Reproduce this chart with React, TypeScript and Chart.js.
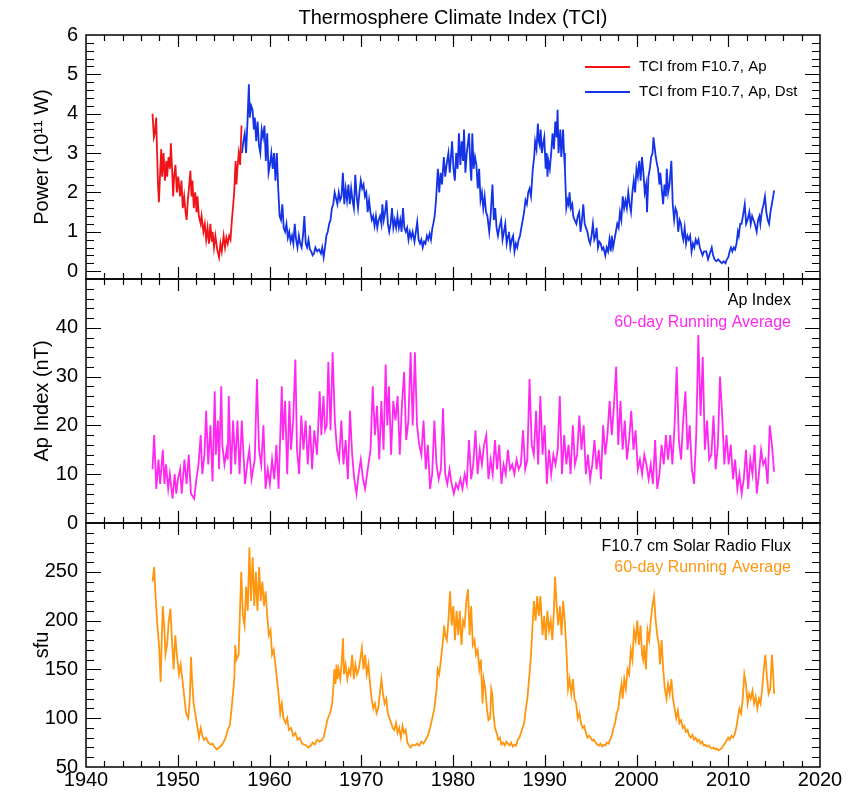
import React, { useEffect, useRef } from 'react';
import { Chart, registerables } from 'chart.js';

Chart.register(...registerables);

const FONT = "'Liberation Sans', Arial, Helvetica, sans-serif";

const chartTitle = 'Thermosphere Climate Index (TCI)';
const xTickYears = [1940, 1950, 1960, 1970, 1980, 1990, 2000, 2010, 2020];
const tciTicks = [0, 1, 2, 3, 4, 5, 6];
const apTicks = [0, 10, 20, 30, 40];
const f107Ticks = [50, 100, 150, 200, 250];
const legendLabels = ['TCI from F10.7, Ap', 'TCI from F10.7, Ap, Dst'];
const apLabels = ['Ap Index', '60-day Running Average'];
const f107Labels = ['F10.7 cm Solar Radio Flux', '60-day Running Average'];

// [year, 10^11 W]
const tciFromF107Ap: [number, number][] = [
  [1947.25, 4.0], [1947.4, 3.4], [1947.5, 3.5], [1947.65, 3.9], [1947.75, 3.0], [1947.85, 2.2], [1947.95, 1.75],
  [1948.1, 2.6], [1948.2, 3.1], [1948.3, 2.4], [1948.45, 3.0], [1948.6, 2.3], [1948.75, 2.8], [1948.85, 2.4],
  [1949.0, 2.9], [1949.15, 2.6], [1949.25, 3.25], [1949.4, 2.5], [1949.5, 1.9], [1949.6, 2.4], [1949.75, 2.7], [1949.9, 2.0],
  [1950.05, 2.4], [1950.25, 1.9], [1950.4, 2.3], [1950.55, 1.6], [1950.7, 1.9], [1950.85, 1.5], [1950.97, 1.3],
  [1951.1, 1.8], [1951.25, 2.2], [1951.38, 2.55], [1951.5, 1.9], [1951.6, 2.3], [1951.75, 1.6], [1951.9, 2.0],
  [1952.05, 1.5], [1952.15, 1.9], [1952.3, 1.4], [1952.5, 1.2], [1952.6, 1.4], [1952.8, 1.0], [1952.95, 1.2],
  [1953.1, 0.8], [1953.25, 1.1], [1953.4, 0.7], [1953.56, 1.2], [1953.7, 0.75], [1953.8, 1.0], [1953.95, 0.6],
  [1954.1, 0.9], [1954.3, 0.55], [1954.5, 0.35], [1954.65, 0.7], [1954.8, 0.5],
  [1955.0, 0.9], [1955.15, 0.6], [1955.3, 0.85], [1955.45, 0.7], [1955.6, 0.9], [1955.75, 0.8], [1955.9, 1.3],
  [1956.05, 1.7], [1956.15, 2.0], [1956.3, 2.8], [1956.4, 2.2], [1956.5, 2.6], [1956.65, 3.0], [1956.8, 2.7], [1956.95, 3.7],
];

const tciFromF107ApDst: [number, number][] = [
  [1957.0, 3.0], [1957.15, 3.3], [1957.3, 3.5], [1957.45, 3.0], [1957.6, 3.8], [1957.75, 4.75], [1957.85, 3.9],
  [1958.0, 4.2], [1958.15, 4.1], [1958.3, 3.6], [1958.4, 3.9], [1958.55, 3.3], [1958.7, 3.8], [1958.85, 3.2],
  [1959.0, 3.0], [1959.15, 3.6], [1959.3, 3.4], [1959.45, 3.7], [1959.6, 2.8], [1959.75, 3.5], [1959.9, 2.5],
  [1960.05, 2.7], [1960.2, 3.0], [1960.35, 2.6], [1960.5, 3.0], [1960.65, 2.3], [1960.8, 3.0], [1960.95, 2.1],
  [1961.1, 1.4], [1961.25, 1.3], [1961.4, 1.7], [1961.55, 1.1], [1961.7, 1.0], [1961.85, 1.2],
  [1962.0, 0.85], [1962.15, 1.0], [1962.3, 0.75], [1962.45, 0.9], [1962.6, 0.7], [1962.75, 1.2], [1962.9, 0.8],
  [1963.05, 0.6], [1963.2, 0.9], [1963.35, 0.7], [1963.5, 0.6], [1963.65, 0.9], [1963.8, 1.4], [1963.95, 0.7],
  [1964.1, 0.6], [1964.25, 0.8], [1964.4, 0.55], [1964.55, 0.5], [1964.7, 0.4], [1964.85, 0.45],
  [1965.0, 0.6], [1965.2, 0.5], [1965.4, 0.55], [1965.6, 0.45], [1965.75, 0.6], [1965.9, 0.35],
  [1966.05, 0.6], [1966.2, 0.9], [1966.35, 1.0], [1966.5, 1.2], [1966.65, 1.3], [1966.8, 1.6], [1966.95, 1.7],
  [1967.1, 2.0], [1967.25, 1.85], [1967.4, 1.7], [1967.55, 2.0], [1967.7, 1.8], [1967.85, 1.9],
  [1968.0, 2.5], [1968.15, 1.7], [1968.3, 2.1], [1968.45, 1.8], [1968.6, 2.2], [1968.75, 1.7], [1968.9, 2.1],
  [1969.05, 1.8], [1969.2, 1.6], [1969.35, 2.45], [1969.5, 1.9], [1969.65, 1.6], [1969.8, 2.0], [1969.95, 2.3],
  [1970.1, 2.1], [1970.25, 2.2], [1970.4, 1.9], [1970.55, 2.0], [1970.7, 1.5], [1970.85, 1.8],
  [1971.0, 1.5], [1971.15, 1.3], [1971.3, 1.4], [1971.45, 1.15], [1971.6, 1.4], [1971.75, 1.1], [1971.9, 1.3],
  [1972.05, 1.4], [1972.2, 1.2], [1972.3, 1.7], [1972.45, 1.3], [1972.6, 1.5], [1972.75, 1.8], [1972.9, 1.2],
  [1973.05, 1.0], [1973.2, 1.2], [1973.35, 1.6], [1973.5, 1.1], [1973.65, 1.3], [1973.8, 1.1], [1973.95, 1.4],
  [1974.1, 1.1], [1974.25, 1.3], [1974.4, 1.0], [1974.55, 1.6], [1974.7, 1.1], [1974.85, 1.0],
  [1975.0, 1.1], [1975.15, 0.8], [1975.3, 1.0], [1975.45, 0.85], [1975.6, 1.0], [1975.8, 0.75], [1975.95, 1.0],
  [1976.1, 1.25], [1976.25, 0.8], [1976.4, 0.7], [1976.55, 0.8], [1976.7, 0.6], [1976.85, 0.75],
  [1977.0, 0.7], [1977.15, 0.9], [1977.3, 0.8], [1977.45, 0.95], [1977.6, 0.8], [1977.75, 1.1], [1977.85, 1.2],
  [1978.0, 1.4], [1978.15, 1.8], [1978.35, 2.6], [1978.5, 2.0], [1978.65, 2.5], [1978.8, 2.2],
  [1979.0, 2.9], [1979.15, 2.4], [1979.3, 2.7], [1979.5, 3.0], [1979.65, 2.5], [1979.9, 3.3],
  [1980.05, 2.6], [1980.2, 2.3], [1980.35, 3.0], [1980.5, 2.6], [1980.65, 3.5], [1980.8, 2.7], [1980.95, 3.3],
  [1981.1, 2.8], [1981.2, 3.6], [1981.35, 2.5], [1981.5, 3.0], [1981.75, 3.5], [1981.9, 2.6],
  [1982.0, 2.3], [1982.1, 3.5], [1982.25, 2.6], [1982.4, 2.9], [1982.55, 2.7], [1982.7, 2.1], [1982.85, 2.6],
  [1983.0, 1.8], [1983.15, 2.0], [1983.3, 1.6], [1983.45, 1.9], [1983.6, 1.5], [1983.75, 1.4], [1983.95, 1.0],
  [1984.1, 1.4], [1984.3, 2.2], [1984.45, 1.3], [1984.6, 1.6], [1984.75, 1.1], [1984.9, 0.9],
  [1985.05, 1.1], [1985.25, 1.3], [1985.4, 0.8], [1985.55, 1.0], [1985.7, 1.2], [1985.85, 0.7],
  [1986.0, 0.9], [1986.1, 1.0], [1986.25, 0.6], [1986.4, 0.8], [1986.55, 0.9], [1986.7, 0.5], [1986.85, 0.7],
  [1987.0, 0.6], [1987.15, 0.8], [1987.3, 0.9], [1987.45, 1.1], [1987.6, 1.3], [1987.75, 1.5], [1987.9, 1.8],
  [1988.05, 1.7], [1988.2, 2.0], [1988.35, 2.1], [1988.5, 1.9], [1988.7, 2.6], [1988.85, 2.9], [1988.95, 3.3],
  [1989.1, 3.1], [1989.25, 3.75], [1989.35, 3.3], [1989.45, 3.2], [1989.55, 3.6], [1989.7, 3.0], [1989.8, 3.2], [1989.95, 3.4],
  [1990.1, 2.6], [1990.2, 3.0], [1990.3, 2.4], [1990.4, 2.8], [1990.55, 2.6], [1990.7, 3.0], [1990.85, 3.5],
  [1991.0, 3.1], [1991.15, 3.8], [1991.3, 3.4], [1991.4, 4.1], [1991.5, 3.0], [1991.6, 3.3], [1991.7, 3.6], [1991.8, 2.9], [1991.9, 3.2],
  [1992.0, 3.6], [1992.1, 3.0], [1992.2, 2.6], [1992.35, 1.6], [1992.5, 1.8], [1992.6, 1.7], [1992.7, 2.0], [1992.85, 1.6],
  [1993.0, 1.7], [1993.1, 1.4], [1993.25, 1.3], [1993.45, 1.2], [1993.6, 1.4], [1993.75, 1.5], [1993.9, 1.0],
  [1994.05, 1.3], [1994.2, 1.7], [1994.35, 1.2], [1994.5, 1.1], [1994.65, 1.0], [1994.8, 0.8], [1994.95, 0.7],
  [1995.1, 0.9], [1995.25, 1.2], [1995.4, 0.8], [1995.55, 0.9], [1995.65, 1.1], [1995.8, 0.6], [1995.95, 0.75],
  [1996.1, 0.7], [1996.25, 0.55], [1996.4, 0.6], [1996.6, 0.4], [1996.75, 0.6], [1996.9, 0.5],
  [1997.05, 0.8], [1997.2, 0.5], [1997.3, 0.9], [1997.45, 0.6], [1997.6, 0.8], [1997.75, 1.0], [1997.9, 1.2],
  [1998.05, 1.1], [1998.2, 1.5], [1998.35, 1.3], [1998.5, 1.9], [1998.65, 1.6], [1998.8, 1.8], [1998.95, 1.6],
  [1999.1, 2.0], [1999.25, 1.7], [1999.4, 1.5], [1999.55, 2.0], [1999.7, 2.3], [1999.85, 2.0],
  [2000.0, 2.6], [2000.15, 2.4], [2000.3, 2.8], [2000.45, 2.3], [2000.6, 2.9], [2000.75, 2.5], [2000.9, 2.0],
  [2001.05, 2.2], [2001.15, 1.5], [2001.3, 2.4], [2001.45, 2.6], [2001.6, 2.9], [2001.75, 3.0], [2001.85, 3.4],
  [2002.0, 3.1], [2002.1, 2.9], [2002.25, 2.7], [2002.35, 2.6], [2002.5, 2.2], [2002.6, 2.5], [2002.75, 2.1], [2002.9, 1.7],
  [2003.05, 2.2], [2003.2, 1.9], [2003.3, 2.6], [2003.45, 2.0], [2003.6, 2.2], [2003.8, 2.8], [2003.95, 1.7],
  [2004.1, 1.3], [2004.25, 1.6], [2004.4, 1.5], [2004.55, 1.0], [2004.7, 1.3], [2004.85, 1.2],
  [2005.0, 0.9], [2005.1, 0.8], [2005.25, 1.1], [2005.4, 0.7], [2005.55, 0.9], [2005.7, 0.8], [2005.85, 0.9],
  [2006.0, 0.5], [2006.15, 0.7], [2006.3, 0.6], [2006.45, 0.8], [2006.6, 0.7], [2006.75, 0.8], [2006.9, 0.6],
  [2007.05, 0.5], [2007.2, 0.4], [2007.35, 0.5], [2007.6, 0.5], [2007.8, 0.3],
  [2008.0, 0.45], [2008.2, 0.6], [2008.35, 0.4], [2008.5, 0.3], [2008.7, 0.25], [2008.9, 0.3],
  [2009.1, 0.25], [2009.3, 0.2], [2009.5, 0.25], [2009.7, 0.2], [2009.85, 0.3],
  [2010.0, 0.35], [2010.15, 0.5], [2010.3, 0.6], [2010.45, 0.5], [2010.6, 0.6], [2010.75, 0.55], [2010.9, 0.7],
  [2011.05, 1.0], [2011.15, 0.9], [2011.3, 1.2], [2011.45, 1.2], [2011.6, 1.4], [2011.8, 1.7], [2011.95, 1.2],
  [2012.1, 1.3], [2012.3, 1.5], [2012.45, 1.2], [2012.6, 1.4], [2012.75, 1.3], [2012.9, 1.2],
  [2013.1, 1.0], [2013.25, 1.3], [2013.4, 1.4], [2013.5, 1.2], [2013.65, 1.5], [2013.85, 1.7],
  [2014.0, 1.9], [2014.15, 1.5], [2014.3, 1.3], [2014.45, 1.2], [2014.6, 1.5], [2014.75, 1.7], [2014.9, 1.9], [2015.0, 2.05],
];

// [year, nT]
const apIndex60: [number, number][] = [
  [1947.25, 11], [1947.43, 18], [1947.66, 7], [1947.9, 13], [1948.08, 8], [1948.37, 15], [1948.55, 8], [1948.72, 12],
  [1948.96, 7], [1949.14, 10], [1949.43, 5], [1949.67, 10], [1949.84, 6], [1950.02, 9], [1950.26, 11], [1950.43, 6],
  [1950.73, 13], [1950.96, 8], [1951.2, 14], [1951.44, 6], [1951.79, 5], [1952.03, 9], [1952.26, 12], [1952.5, 18],
  [1952.67, 10], [1952.91, 14], [1953.09, 23], [1953.32, 12], [1953.56, 20], [1953.79, 8.5], [1954.03, 27], [1954.15, 14],
  [1954.38, 21], [1954.5, 11], [1954.74, 28], [1954.86, 16], [1955.09, 12], [1955.33, 15], [1955.45, 13], [1955.56, 26],
  [1955.8, 10], [1956.03, 21], [1956.27, 12], [1956.51, 21], [1956.74, 10], [1956.98, 21], [1957.33, 8], [1957.57, 12],
  [1957.8, 15], [1958.04, 9], [1958.39, 13], [1958.63, 29.5], [1958.86, 15], [1959.1, 12], [1959.34, 20], [1959.57, 7],
  [1959.81, 11], [1960.04, 8], [1960.28, 13], [1960.52, 9], [1960.75, 16], [1960.99, 7], [1961.34, 28], [1961.46, 17],
  [1961.7, 25], [1961.93, 10], [1962.17, 25], [1962.34, 15], [1962.58, 21], [1962.82, 33.5], [1963.0, 15], [1963.23, 10],
  [1963.46, 22], [1963.7, 15], [1963.94, 21], [1964.17, 12], [1964.41, 20], [1964.64, 11], [1964.88, 19], [1965.18, 14],
  [1965.47, 27], [1965.65, 18], [1965.88, 26], [1966.06, 19], [1966.24, 20], [1966.41, 33], [1966.65, 19], [1966.88, 35],
  [1967.12, 21], [1967.36, 15], [1967.59, 13], [1967.83, 21], [1968.06, 12], [1968.3, 17], [1968.54, 9], [1968.77, 23],
  [1969.01, 14], [1969.24, 9], [1969.48, 6], [1969.71, 10], [1969.95, 13], [1970.19, 9], [1970.42, 7], [1970.78, 12],
  [1971.01, 15], [1971.25, 28], [1971.49, 18], [1971.72, 24], [1971.96, 13], [1972.19, 25], [1972.43, 15], [1972.66, 32.5],
  [1972.84, 20], [1973.02, 28], [1973.25, 14], [1973.49, 25], [1973.73, 21], [1973.96, 26], [1974.2, 14], [1974.43, 24],
  [1974.67, 31], [1974.9, 17], [1975.14, 21], [1975.38, 35], [1975.61, 20], [1975.85, 35], [1976.08, 20], [1976.32, 16],
  [1976.55, 14], [1976.79, 21], [1977.03, 11], [1977.26, 16], [1977.5, 7], [1977.73, 10], [1977.97, 21], [1978.2, 12],
  [1978.44, 9], [1978.68, 11], [1978.91, 23.5], [1979.15, 10], [1979.38, 8], [1979.62, 11], [1979.85, 8], [1980.09, 6],
  [1980.33, 8], [1980.56, 7], [1980.8, 9], [1981.03, 7], [1981.27, 10], [1981.5, 8], [1981.74, 17], [1981.98, 9],
  [1982.21, 12], [1982.45, 19], [1982.68, 10], [1982.92, 15], [1983.15, 12], [1983.39, 16], [1983.63, 18], [1983.86, 9],
  [1984.1, 13], [1984.33, 10], [1984.57, 17], [1984.8, 11], [1985.04, 16], [1985.28, 8], [1985.51, 12], [1985.75, 10],
  [1985.98, 15], [1986.22, 11], [1986.45, 12], [1986.69, 10], [1986.93, 13], [1987.16, 11], [1987.4, 12], [1987.63, 19],
  [1987.87, 11], [1988.1, 13], [1988.34, 29.5], [1988.58, 16], [1988.81, 14], [1989.05, 23], [1989.28, 12], [1989.52, 26],
  [1989.76, 14], [1989.99, 20], [1990.23, 8], [1990.46, 15], [1990.7, 10], [1990.94, 14], [1991.17, 12], [1991.41, 15],
  [1991.64, 26], [1991.88, 10], [1992.12, 18], [1992.35, 12], [1992.59, 16], [1992.82, 10], [1993.06, 20], [1993.29, 12],
  [1993.53, 14], [1993.77, 22], [1994.0, 15], [1994.24, 20], [1994.48, 10], [1994.71, 14], [1994.95, 9], [1995.18, 12],
  [1995.42, 17], [1995.65, 11], [1995.89, 15], [1996.13, 9], [1996.36, 20], [1996.6, 14], [1996.83, 18], [1997.07, 25],
  [1997.31, 18], [1997.54, 24], [1997.78, 32], [1998.01, 16], [1998.25, 25], [1998.49, 15], [1998.72, 21], [1998.96, 13],
  [1999.19, 17], [1999.43, 23], [1999.67, 15], [1999.9, 19], [2000.14, 11], [2000.37, 13], [2000.61, 10], [2000.85, 14],
  [2001.08, 12], [2001.32, 9], [2001.55, 12], [2001.79, 8], [2002.03, 17], [2002.26, 7], [2002.5, 10], [2002.73, 16],
  [2002.97, 12], [2003.2, 18], [2003.44, 13], [2003.68, 18], [2003.91, 12], [2004.15, 20], [2004.38, 32], [2004.62, 17],
  [2004.86, 13], [2005.09, 21], [2005.33, 27], [2005.56, 15], [2005.8, 20], [2006.04, 11], [2006.27, 8], [2006.51, 18],
  [2006.74, 38.5], [2006.98, 22], [2007.22, 34], [2007.45, 15], [2007.69, 21], [2007.92, 13], [2008.16, 14], [2008.39, 22],
  [2008.63, 11], [2008.87, 16], [2009.1, 30], [2009.34, 22], [2009.57, 12], [2009.81, 18], [2010.04, 12], [2010.28, 16],
  [2010.52, 9], [2010.75, 13], [2010.99, 7], [2011.22, 10], [2011.46, 6], [2011.69, 9], [2011.93, 15], [2012.17, 7],
  [2012.4, 13], [2012.64, 10], [2012.87, 16], [2013.11, 6], [2013.34, 10], [2013.58, 15], [2013.81, 12], [2014.05, 13],
  [2014.29, 8], [2014.52, 20], [2014.76, 16], [2015.0, 10.5],
];

// [year, sfu]
const f107Flux60: [number, number][] = [
  [1947.25, 240], [1947.43, 255], [1947.55, 230], [1947.78, 195], [1947.96, 175], [1948.14, 137], [1948.25, 180], [1948.37, 215],
  [1948.55, 190], [1948.66, 165], [1948.84, 175], [1949.02, 200], [1949.2, 212], [1949.32, 190], [1949.43, 170], [1949.55, 150],
  [1949.73, 185], [1949.91, 165], [1950.14, 145], [1950.32, 155], [1950.5, 140], [1950.73, 120], [1950.91, 105], [1951.14, 100],
  [1951.32, 120], [1951.44, 163], [1951.56, 140], [1951.73, 115], [1951.91, 105], [1952.15, 90], [1952.32, 80], [1952.5, 90],
  [1952.68, 82], [1952.85, 78], [1953.09, 80], [1953.33, 75], [1953.56, 73], [1953.8, 74], [1954.03, 70], [1954.27, 68],
  [1954.5, 70], [1954.74, 72], [1954.98, 75], [1955.21, 80], [1955.45, 88], [1955.68, 93], [1955.92, 115], [1956.16, 140],
  [1956.27, 175], [1956.39, 160], [1956.63, 165], [1956.75, 200], [1956.92, 250], [1957.1, 205], [1957.28, 195], [1957.45, 235],
  [1957.63, 210], [1957.81, 275], [1957.98, 220], [1958.16, 265], [1958.34, 215], [1958.51, 250], [1958.69, 210], [1958.87, 255],
  [1959.04, 220], [1959.22, 240], [1959.4, 215], [1959.58, 230], [1959.75, 205], [1959.93, 185], [1960.11, 190], [1960.28, 165],
  [1960.46, 170], [1960.64, 155], [1960.81, 140], [1960.99, 125], [1961.17, 105], [1961.34, 115], [1961.52, 100], [1961.76, 95],
  [1961.93, 100], [1962.11, 88], [1962.35, 90], [1962.58, 82], [1962.82, 85], [1963.05, 78], [1963.29, 80], [1963.53, 74],
  [1963.77, 73], [1964.0, 72], [1964.24, 70], [1964.48, 72], [1964.72, 75], [1964.94, 73], [1965.19, 78], [1965.42, 76],
  [1965.65, 77], [1965.89, 80], [1966.12, 90], [1966.36, 100], [1966.6, 105], [1966.83, 115], [1966.95, 130], [1967.07, 150],
  [1967.19, 135], [1967.3, 155], [1967.42, 140], [1967.54, 150], [1967.71, 140], [1967.89, 160], [1968.01, 182], [1968.12, 145],
  [1968.3, 155], [1968.48, 140], [1968.66, 150], [1968.83, 145], [1969.01, 165], [1969.19, 140], [1969.36, 155], [1969.54, 145],
  [1969.72, 150], [1969.89, 160], [1970.07, 172], [1970.25, 150], [1970.42, 165], [1970.6, 145], [1970.78, 155], [1970.96, 135],
  [1971.13, 120], [1971.31, 110], [1971.49, 115], [1971.67, 105], [1971.84, 110], [1972.02, 125], [1972.2, 140], [1972.37, 125],
  [1972.55, 115], [1972.73, 120], [1972.9, 105], [1973.08, 100], [1973.26, 95], [1973.44, 90], [1973.61, 88], [1973.79, 95],
  [1973.96, 85], [1974.14, 90], [1974.32, 80], [1974.5, 92], [1974.67, 85], [1974.85, 88], [1975.03, 75], [1975.2, 72],
  [1975.38, 70], [1975.62, 73], [1975.85, 72], [1976.09, 74], [1976.32, 72], [1976.56, 76], [1976.79, 74], [1977.03, 78],
  [1977.26, 82], [1977.5, 90], [1977.74, 100], [1977.97, 110], [1978.21, 130], [1978.33, 150], [1978.5, 145], [1978.68, 160],
  [1978.86, 175], [1979.03, 195], [1979.15, 185], [1979.33, 180], [1979.5, 200], [1979.68, 230], [1979.86, 195], [1980.04, 215],
  [1980.21, 180], [1980.39, 210], [1980.57, 185], [1980.74, 210], [1980.92, 175], [1981.1, 200], [1981.27, 195], [1981.45, 220],
  [1981.63, 232], [1981.81, 185], [1981.98, 215], [1982.16, 175], [1982.34, 180], [1982.51, 165], [1982.69, 170], [1982.87, 150],
  [1983.04, 160], [1983.22, 115], [1983.34, 140], [1983.52, 130], [1983.69, 110], [1983.87, 98], [1984.05, 100], [1984.17, 130],
  [1984.28, 125], [1984.4, 105], [1984.58, 90], [1984.75, 85], [1984.93, 78], [1985.11, 80], [1985.28, 73], [1985.46, 75],
  [1985.64, 72], [1985.81, 76], [1985.99, 74], [1986.17, 72], [1986.34, 75], [1986.52, 71], [1986.7, 73], [1986.88, 72],
  [1987.05, 78], [1987.23, 80], [1987.41, 85], [1987.58, 90], [1987.76, 95], [1987.94, 110], [1988.11, 120], [1988.29, 140],
  [1988.47, 160], [1988.64, 190], [1988.82, 220], [1989.0, 200], [1989.17, 225], [1989.35, 205], [1989.53, 225], [1989.76, 185],
  [1989.94, 205], [1990.12, 180], [1990.29, 210], [1990.47, 190], [1990.65, 200], [1990.83, 180], [1991.0, 210], [1991.12, 245],
  [1991.3, 215], [1991.47, 195], [1991.65, 215], [1991.83, 185], [1992.0, 220], [1992.18, 200], [1992.36, 170], [1992.54, 130],
  [1992.71, 140], [1992.89, 125], [1993.07, 140], [1993.24, 120], [1993.42, 115], [1993.6, 100], [1993.77, 105], [1993.95, 95],
  [1994.13, 90], [1994.3, 92], [1994.48, 85], [1994.66, 80], [1994.84, 82], [1995.01, 80], [1995.19, 77], [1995.37, 78],
  [1995.54, 75], [1995.72, 73], [1995.9, 72], [1996.07, 74], [1996.25, 71], [1996.43, 73], [1996.6, 72], [1996.78, 75],
  [1996.96, 74], [1997.13, 78], [1997.31, 82], [1997.49, 90], [1997.67, 95], [1997.84, 105], [1998.02, 110], [1998.2, 125],
  [1998.37, 135], [1998.49, 120], [1998.67, 140], [1998.84, 130], [1999.02, 150], [1999.2, 145], [1999.38, 170], [1999.55, 160],
  [1999.73, 190], [1999.91, 180], [2000.08, 200], [2000.26, 175], [2000.44, 195], [2000.61, 165], [2000.73, 160], [2000.85, 175],
  [2001.03, 150], [2001.2, 190], [2001.38, 180], [2001.56, 200], [2001.73, 215], [2001.91, 225], [2002.09, 200], [2002.26, 185],
  [2002.44, 175], [2002.56, 155], [2002.74, 180], [2002.91, 150], [2003.09, 130], [2003.27, 120], [2003.44, 135], [2003.62, 125],
  [2003.8, 140], [2003.97, 120], [2004.15, 110], [2004.33, 100], [2004.51, 108], [2004.68, 95], [2004.86, 98], [2005.04, 90],
  [2005.21, 92], [2005.39, 86], [2005.57, 88], [2005.74, 82], [2005.92, 80], [2006.1, 83], [2006.27, 78], [2006.45, 80],
  [2006.63, 76], [2006.8, 78], [2006.98, 74], [2007.16, 76], [2007.33, 72], [2007.51, 73], [2007.69, 71], [2007.87, 72],
  [2008.04, 70], [2008.22, 69], [2008.4, 70], [2008.57, 68], [2008.75, 69], [2008.93, 67], [2009.1, 68], [2009.28, 69],
  [2009.46, 72], [2009.63, 74], [2009.81, 77], [2009.99, 80], [2010.16, 78], [2010.34, 82], [2010.52, 80], [2010.69, 83],
  [2010.87, 90], [2011.05, 100], [2011.22, 110], [2011.4, 105], [2011.58, 120], [2011.75, 145], [2011.93, 135], [2012.11, 115],
  [2012.28, 125], [2012.46, 120], [2012.64, 128], [2012.81, 115], [2012.99, 122], [2013.17, 110], [2013.34, 120], [2013.52, 115],
  [2013.7, 130], [2013.87, 150], [2014.05, 165], [2014.23, 140], [2014.4, 125], [2014.58, 130], [2014.76, 165], [2014.87, 150],
  [2015.0, 125],
];

const RED = 'rgb(240,20,25)';
const BLUE = 'rgb(20,50,230)';
const MAGENTA = 'rgb(255,40,240)';
const ORANGE = 'rgb(255,150,15)';

const toPoints = (s: [number, number][]) => s.map(([x, y]) => ({ x, y }));

const panels = [
  { id: 'yTci', minor: 0.2, major: 1 },
  { id: 'yAp', minor: 2, major: 10 },
  { id: 'yF107', minor: 10, major: 50 },
];

const framePlugin = {
  id: 'idlFrame',
  afterDraw(chart: any) {
    const { ctx } = chart;
    const xs = chart.scales.x;
    const L = xs.left;
    const R = xs.right;
    ctx.save();
    ctx.strokeStyle = '#000';
    ctx.lineWidth = 1.2;
    ctx.beginPath();
    for (const p of panels) {
      const s = chart.scales[p.id];
      const T = s.top;
      const B = s.bottom;
      for (let yr = xs.min + 2; yr < xs.max; yr += 2) {
        const px = Math.round(xs.getPixelForValue(yr)) + 0.5;
        const len = yr % 10 === 0 ? 12 : 6;
        ctx.moveTo(px, T);
        ctx.lineTo(px, T + len);
        ctx.moveTo(px, B);
        ctx.lineTo(px, B - len);
      }
      const n0 = Math.ceil(s.min / p.minor - 1e-6);
      const n1 = Math.floor(s.max / p.minor + 1e-6);
      for (let n = n0; n <= n1; n++) {
        const v = n * p.minor;
        const py = Math.round(s.getPixelForValue(v)) + 0.5;
        if (py <= T + 1 || py >= B - 1) continue;
        const r = v / p.major;
        const len = Math.abs(r - Math.round(r)) < 1e-6 ? 15 : 8;
        ctx.moveTo(L, py);
        ctx.lineTo(L + len, py);
        ctx.moveTo(R, py);
        ctx.lineTo(R - len, py);
      }
    }
    ctx.stroke();
    ctx.lineWidth = 1.5;
    for (const p of panels) {
      const s = chart.scales[p.id];
      ctx.strokeRect(L, s.top, R - L, s.bottom - s.top);
    }

    // legend of the top panel
    const tTop = chart.scales.yTci.top;
    const legendColors = [RED, BLUE];
    ctx.font = `15px ${FONT}`;
    ctx.textBaseline = 'middle';
    ctx.textAlign = 'left';
    legendLabels.forEach((txt, i) => {
      const y = tTop + 32 + i * 25;
      ctx.strokeStyle = legendColors[i];
      ctx.lineWidth = 1.8;
      ctx.beginPath();
      ctx.moveTo(R - 235, y);
      ctx.lineTo(R - 190, y);
      ctx.stroke();
      ctx.fillStyle = '#000';
      ctx.fillText(txt, R - 181, y);
    });

    // panel notes
    ctx.font = `16px ${FONT}`;
    ctx.textAlign = 'right';
    const aTop = chart.scales.yAp.top;
    ctx.fillStyle = '#000';
    ctx.fillText(apLabels[0], R - 29, aTop + 22);
    ctx.fillStyle = MAGENTA;
    ctx.fillText(apLabels[1], R - 29, aTop + 44);
    const fTop = chart.scales.yF107.top;
    ctx.fillStyle = '#000';
    ctx.fillText(f107Labels[0], R - 29, fTop + 24);
    ctx.fillStyle = ORANGE;
    ctx.fillText(f107Labels[1], R - 29, fTop + 45);
    ctx.restore();
  },
};

const yAxis = (tickList: number[], min: number, max: number, title: string) => ({
  type: 'linear',
  position: 'left',
  stack: 'panels',
  stackWeight: 1,
  min,
  max,
  bounds: 'data',
  afterBuildTicks: (axis: any) => {
    axis.ticks = tickList.map((value) => ({ value }));
  },
  afterFit: (axis: any) => {
    axis.width = 86;
  },
  grid: { display: false, drawTicks: false },
  border: { display: false },
  ticks: {
    color: '#000',
    padding: 8,
    autoSkip: false,
    font: { family: FONT, size: 20 },
    callback: (v: number) => String(v),
  },
  title: {
    display: true,
    text: title,
    color: '#000',
    font: { family: FONT, size: 20 },
    padding: { top: 30, bottom: 0 },
  },
});

export default function App() {
  const ref = useRef<HTMLCanvasElement | null>(null);

  useEffect(() => {
    if (!ref.current) return;
    const line = (label: string, data: [number, number][], axis: string, color: string) => ({
      label,
      data: toPoints(data),
      yAxisID: axis,
      borderColor: color,
      backgroundColor: color,
      borderWidth: 1.8,
      pointRadius: 0,
      tension: 0,
      fill: false,
    });
    const chart = new Chart(ref.current, {
      type: 'line',
      data: {
        datasets: [
          line(legendLabels[0], tciFromF107Ap, 'yTci', RED),
          line(legendLabels[1], tciFromF107ApDst, 'yTci', BLUE),
          line('Ap Index 60-day', apIndex60, 'yAp', MAGENTA),
          line('F10.7 60-day', f107Flux60, 'yF107', ORANGE),
        ],
      },
      options: {
        animation: false,
        responsive: false,
        devicePixelRatio: 1,
        layout: { padding: { left: 0, right: 29, top: 0, bottom: 0 } },
        plugins: {
          legend: { display: false },
          tooltip: { enabled: false },
          title: {
            display: true,
            text: chartTitle,
            color: '#000',
            fullSize: false,
            font: { family: FONT, size: 20, weight: 'normal' },
            padding: { top: 6, bottom: 5 },
          },
        },
        scales: {
          x: {
            type: 'linear',
            position: 'bottom',
            min: 1940,
            max: 2020,
            bounds: 'data',
            afterBuildTicks: (axis: any) => {
              axis.ticks = xTickYears.map((value) => ({ value }));
            },
            afterFit: (axis: any) => {
              axis.height = 25;
            },
            grid: { display: false, drawTicks: false },
            border: { display: false },
            ticks: {
              color: '#000',
              padding: 1,
              autoSkip: false,
              maxRotation: 0,
              font: { family: FONT, size: 20 },
              callback: (v: number) => String(v),
            },
          },
          yF107: yAxis(f107Ticks, 50, 300, 'sfu'),
          yAp: yAxis(apTicks, 0, 50, 'Ap Index (nT)'),
          yTci: yAxis(tciTicks, -0.2, 6, 'Power (10\u00B9\u00B9 W)'),
        } as any,
      },
      plugins: [framePlugin],
    } as any);
    return () => chart.destroy();
  }, []);

  return (
    <div style={{ position: 'absolute', left: 0, top: 0, width: 849, height: 792, background: '#fff' }}>
      <canvas ref={ref} width={849} height={792} style={{ display: 'block' }} />
    </div>
  );
}
